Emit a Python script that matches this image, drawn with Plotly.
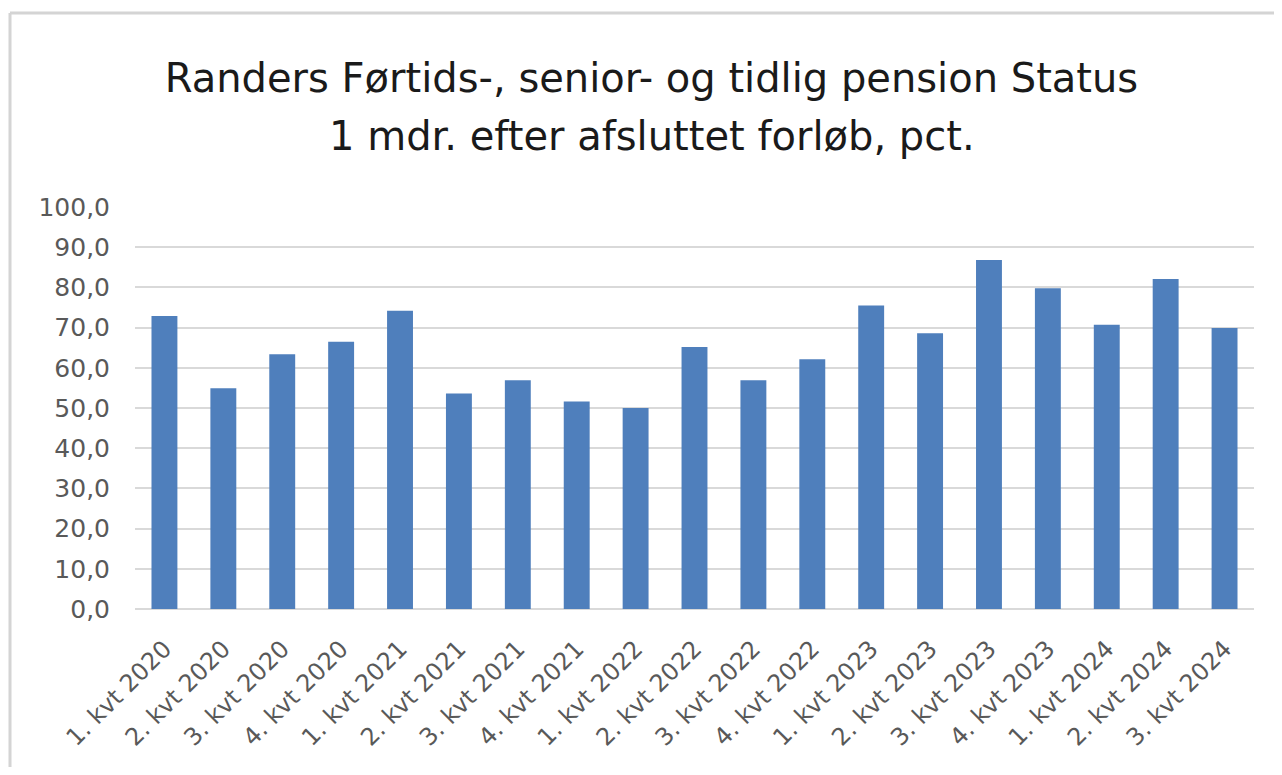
import plotly.graph_objects as go

categories = ["1. kvt 2020", "2. kvt 2020", "3. kvt 2020", "4. kvt 2020",
              "1. kvt 2021", "2. kvt 2021", "3. kvt 2021", "4. kvt 2021",
              "1. kvt 2022", "2. kvt 2022", "3. kvt 2022", "4. kvt 2022",
              "1. kvt 2023", "2. kvt 2023", "3. kvt 2023", "4. kvt 2023",
              "1. kvt 2024", "2. kvt 2024", "3. kvt 2024"]
values = [72.9, 54.9, 63.4, 66.5, 74.2, 53.6, 56.9, 51.6, 50.0, 65.2,
          56.9, 62.1, 75.5, 68.6, 86.8, 79.8, 70.7, 82.1, 69.9]
tick_vals = [0, 10, 20, 30, 40, 50, 60, 70, 80, 90, 100]
tick_text = ["0,0", "10,0", "20,0", "30,0", "40,0", "50,0", "60,0", "70,0", "80,0", "90,0", "100,0"]
title_line1 = "Randers Førtids-, senior- og tidlig pension Status"
title_line2 = "1 mdr. efter afsluttet forløb, pct."

FONT = "DejaVu Sans"
OFF = 8  # page body margin
W, H = 1282 - 2 * OFF, 775 - 2 * OFF
L, R, T, B = 135 - OFF, 1254 - OFF, 207 - OFF, 609 - OFF

fig = go.Figure(go.Bar(x=categories, y=values, marker_color="#4f7fbc",
                       marker_line_width=0))

px = lambda x: (x - OFF - L) / (R - L)
py = lambda y: (B - (y - OFF)) / (B - T)

fig.update_layout(
    width=W, height=H,
    margin=dict(l=L, r=W - R, t=T, b=H - B, pad=0),
    paper_bgcolor="white", plot_bgcolor="white",
    bargap=0.56,
    showlegend=False,
    title=dict(text=title_line1,
               xref="container", x=(651.5 - OFF) / W, xanchor="center",
               yref="container", y=1 - (78 - OFF) / H, yanchor="middle",
               font=dict(family=FONT, size=40, color="#1a1a1a")),
    annotations=[dict(text=title_line2, xref="paper", yref="paper",
                      x=px(652), y=py(136), xanchor="center", yanchor="middle",
                      showarrow=False,
                      font=dict(family=FONT, size=40, color="#1a1a1a"))],
    font=dict(family=FONT),
    xaxis=dict(tickangle=-45, tickfont=dict(family=FONT, size=24, color="#595959"),
               showgrid=False, showline=False, ticks="", ticklabelstandoff=20),
    yaxis=dict(range=[0, 100], tickvals=tick_vals, ticktext=tick_text,
               tickfont=dict(family=FONT, size=25, color="#595959"),
               showgrid=True, gridcolor="#d9d9d9", gridwidth=2,
               zeroline=True, zerolinecolor="#d9d9d9", zerolinewidth=2,
               showline=False, ticks="", ticklabelstandoff=24),
    shapes=[
        dict(type="line", xref="paper", yref="paper", x0=px(10), x1=px(1300),
             y0=py(13), y1=py(13), line=dict(color="#d4d4d4", width=3)),
        dict(type="line", xref="paper", yref="paper", x0=px(10), x1=px(10),
             y0=py(13), y1=py(800), line=dict(color="#d4d4d4", width=3)),
    ],
)

fig.write_html("out.html")
